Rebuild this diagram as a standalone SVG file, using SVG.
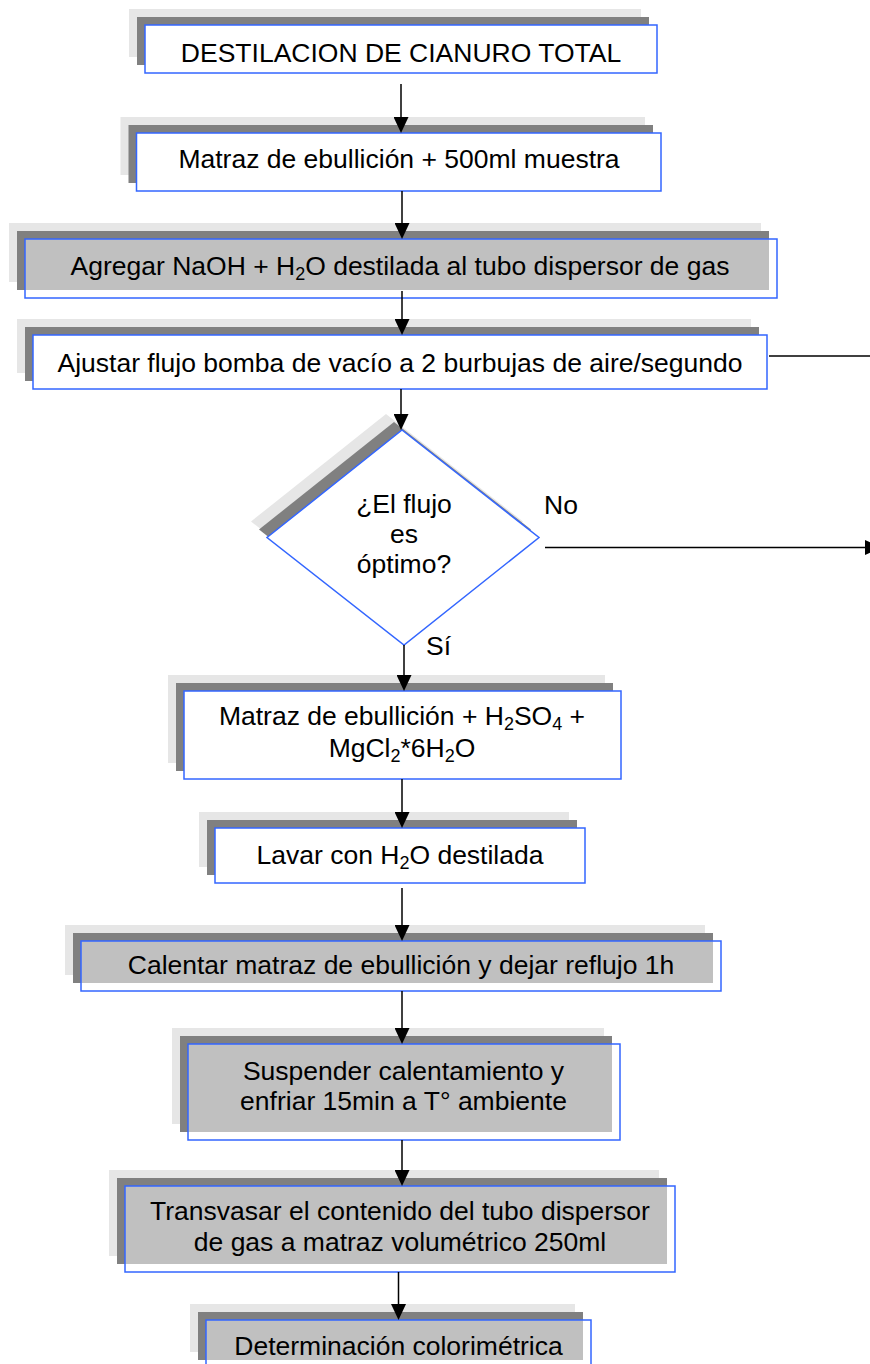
<svg xmlns="http://www.w3.org/2000/svg" width="870" height="1364" viewBox="0 0 870 1364">
<style>
.lt{fill:#e6e6e6}
.dk{fill:#808080}
.wf{fill:#ffffff}
.gf{fill:#c0c0c0}
.ol{fill:none;stroke:#3366ff;stroke-width:1.5}
text{font-family:"Liberation Sans",Arial,sans-serif;font-size:26.5px;fill:#000;text-anchor:middle}
.sub{font-size:18px}
.cn{stroke:#000;stroke-width:1.5;fill:none}
.lbl{text-anchor:start}
</style>
<defs>
<marker id="ah" markerUnits="userSpaceOnUse" viewBox="0 0 16 15" refX="13" refY="7.5" markerWidth="16" markerHeight="15" orient="auto">
<path d="M0,0 L16,7.5 L0,15 z" fill="#000"/>
</marker>
</defs>
<rect x="0" y="0" width="870" height="1364" fill="#fff"/>

<g id="n1">
<rect class="lt" x="129" y="9" width="512" height="48"/>
<rect class="dk" x="137" y="17" width="512" height="48"/>
<rect class="wf" x="145" y="25" width="512" height="48"/>
<rect class="ol" x="145" y="25" width="512" height="48"/>
<text x="401" y="62">DESTILACION DE CIANURO TOTAL</text>
</g>

<g id="n2">
<rect class="lt" x="120.5" y="117" width="524.5" height="58"/>
<rect class="dk" x="128.5" y="125" width="524.5" height="58"/>
<rect class="wf" x="136.5" y="133" width="524.5" height="58"/>
<rect class="ol" x="136.5" y="133" width="524.5" height="58"/>
<text x="399" y="168">Matraz de ebullición + 500ml muestra</text>
</g>

<g id="n3">
<rect class="lt" x="9" y="223" width="752" height="59"/>
<rect class="dk" x="17" y="231" width="752" height="59"/>
<rect class="wf" x="25" y="239" width="752" height="59"/>
<rect class="gf" x="25" y="239" width="744" height="51"/>
<rect class="ol" x="25" y="239" width="752" height="59"/>
<text x="400" y="275">Agregar NaOH + H<tspan class="sub" dy="4.5">2</tspan><tspan dy="-4.5">O destilada al tubo dispersor de gas</tspan></text>
</g>

<g id="n4">
<rect class="lt" x="17" y="319" width="734" height="54"/>
<rect class="dk" x="25" y="327" width="734" height="54"/>
<rect class="wf" x="33" y="335" width="734" height="54"/>
<rect class="ol" x="33" y="335" width="734" height="54"/>
<text x="400" y="372">Ajustar flujo bomba de vacío a 2 burbujas de aire/segundo</text>
</g>

<g id="d1">
<polygon class="lt" points="386,414 523,521.5 388,629 251,521.5"/>
<polygon class="dk" points="394,422 531,529.5 396,637 259,529.5"/>
<polygon points="402,430 539,537.5 404,645 267,537.5" fill="#fff" stroke="#3366ff" stroke-width="1.5"/>
<text x="404" y="513">¿El flujo</text>
<text x="404" y="543">es</text>
<text x="404" y="573">óptimo?</text>
</g>

<g id="n5">
<rect class="lt" x="168" y="675" width="437" height="88"/>
<rect class="dk" x="176" y="683" width="437" height="88"/>
<rect class="wf" x="184" y="691" width="437" height="88"/>
<rect class="ol" x="184" y="691" width="437" height="88"/>
<text x="402" y="725">Matraz de ebullición + H<tspan class="sub" dy="4.5">2</tspan><tspan dy="-4.5">SO</tspan><tspan class="sub" dy="4.5">4</tspan><tspan dy="-4.5"> +</tspan></text>
<text x="402" y="757">MgCl<tspan class="sub" dy="4.5">2</tspan><tspan dy="-4.5">*6H</tspan><tspan class="sub" dy="4.5">2</tspan><tspan dy="-4.5">O</tspan></text>
</g>

<g id="n6">
<rect class="lt" x="199" y="812" width="370" height="55"/>
<rect class="dk" x="207" y="820" width="370" height="55"/>
<rect class="wf" x="215" y="828" width="370" height="55"/>
<rect class="ol" x="215" y="828" width="370" height="55"/>
<text x="400" y="864">Lavar con H<tspan class="sub" dy="4.5">2</tspan><tspan dy="-4.5">O destilada</tspan></text>
</g>

<g id="n7">
<rect class="lt" x="65" y="925" width="640" height="50"/>
<rect class="dk" x="73" y="933" width="640" height="50"/>
<rect class="wf" x="81" y="941" width="640" height="50"/>
<rect class="gf" x="81" y="941" width="632" height="42"/>
<rect class="ol" x="81" y="941" width="640" height="50"/>
<text x="401" y="974">Calentar matraz de ebullición y dejar reflujo 1h</text>
</g>

<g id="n8">
<rect class="lt" x="172" y="1028" width="432" height="96"/>
<rect class="dk" x="180" y="1036" width="432" height="96"/>
<rect class="wf" x="188" y="1044" width="432" height="96"/>
<rect class="gf" x="188" y="1044" width="424" height="88"/>
<rect class="ol" x="188" y="1044" width="432" height="96"/>
<text x="403.5" y="1080">Suspender calentamiento y</text>
<text x="403.5" y="1110">enfriar 15min a T° ambiente</text>
</g>

<g id="n9">
<rect class="lt" x="109" y="1170" width="550" height="86"/>
<rect class="dk" x="117" y="1178" width="550" height="86"/>
<rect class="wf" x="125" y="1186" width="550" height="86"/>
<rect class="gf" x="125" y="1186" width="542" height="78"/>
<rect class="ol" x="125" y="1186" width="550" height="86"/>
<text x="400" y="1220">Transvasar el contenido del tubo dispersor</text>
<text x="400" y="1251">de gas a matraz volumétrico 250ml</text>
</g>

<g id="n10">
<rect class="lt" x="190" y="1304" width="385" height="48"/>
<rect class="dk" x="198" y="1312" width="385" height="48"/>
<rect class="wf" x="206" y="1320" width="385" height="48"/>
<rect class="gf" x="206" y="1320" width="377" height="40"/>
<rect class="ol" x="206" y="1320" width="385" height="48"/>
<text x="398.5" y="1355">Determinación colorimétrica</text>
</g>

<g id="connectors">
<path class="cn" d="M401,84 V130" marker-end="url(#ah)"/>
<path class="cn" d="M402,191 V236" marker-end="url(#ah)"/>
<path class="cn" d="M402,291 V332" marker-end="url(#ah)"/>
<path class="cn" d="M401,389 V427" marker-end="url(#ah)"/>
<path class="cn" d="M404,645 V688" marker-end="url(#ah)"/>
<path class="cn" d="M402,779 V825" marker-end="url(#ah)"/>
<path class="cn" d="M402,888 V938" marker-end="url(#ah)"/>
<path class="cn" d="M402,991 V1041" marker-end="url(#ah)"/>
<path class="cn" d="M402,1140 V1183" marker-end="url(#ah)"/>
<path class="cn" d="M398.5,1272 V1317" marker-end="url(#ah)"/>
<path class="cn" d="M769,356 H870"/>
<path class="cn" d="M545,547.5 H878" marker-end="url(#ah)"/>
<text class="lbl" x="544" y="514">No</text>
<text class="lbl" x="426" y="655">Sí</text>
</g>
</svg>
